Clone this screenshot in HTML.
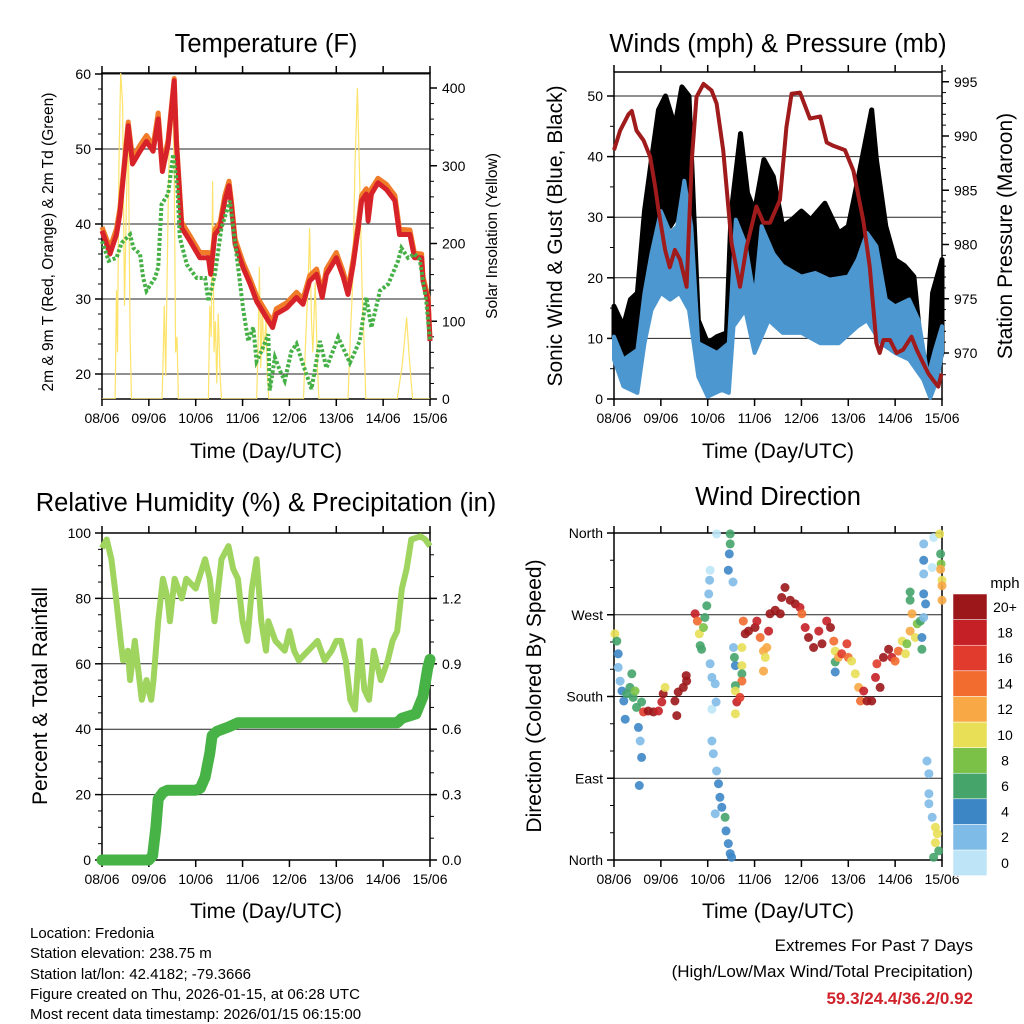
<!DOCTYPE html>
<html><head><meta charset="utf-8">
<style>
html,body{margin:0;padding:0;background:#fff;}
svg{display:block;font-family:"Liberation Sans",sans-serif;}
</style></head>
<body>
<svg id="fig" width="1024" height="1024" viewBox="0 0 1024 1024" xmlns="http://www.w3.org/2000/svg">
<rect width="1024" height="1024" fill="#fff"/>
<g id="layer"></g>
<!-- titles -->
<text x="266" y="52" font-size="25.5" text-anchor="middle">Temperature (F)</text>
<text x="778" y="52" font-size="25.5" text-anchor="middle">Winds (mph) &amp; Pressure (mb)</text>
<text x="266" y="511" font-size="25.5" text-anchor="middle">Relative Humidity (%) &amp; Precipitation (in)</text>
<text x="778" y="505" font-size="25.5" text-anchor="middle">Wind Direction</text>
<text x="266" y="458" font-size="21" text-anchor="middle">Time (Day/UTC)</text>
<text x="778" y="458" font-size="21" text-anchor="middle">Time (Day/UTC)</text>
<text x="266" y="918" font-size="21" text-anchor="middle">Time (Day/UTC)</text>
<text x="778" y="918" font-size="21" text-anchor="middle">Time (Day/UTC)</text>
<text transform="translate(53,242) rotate(-90)" font-size="15.5" text-anchor="middle">2m &amp; 9m T (Red, Orange) &amp; 2m Td (Green)</text>
<text transform="translate(497,236) rotate(-90)" font-size="15.5" text-anchor="middle">Solar Insolation (Yellow)</text>
<text transform="translate(562,236) rotate(-90)" font-size="21" text-anchor="middle">Sonic Wind &amp; Gust (Blue, Black)</text>
<text transform="translate(1012,236) rotate(-90)" font-size="21" text-anchor="middle">Station Pressure (Maroon)</text>
<text transform="translate(47,696) rotate(-90)" font-size="21" text-anchor="middle">Percent &amp; Total Rainfall</text>
<text transform="translate(541,696) rotate(-90)" font-size="21" text-anchor="middle">Direction (Colored By Speed)</text>
<!-- info -->
<g font-size="15">
<text x="30" y="938">Location: Fredonia</text>
<text x="30" y="958">Station elevation: 238.75 m</text>
<text x="30" y="979">Station lat/lon: 42.4182; -79.3666</text>
<text x="30" y="999">Figure created on Thu, 2026-01-15, at 06:28 UTC</text>
<text x="30" y="1019">Most recent data timestamp: 2026/01/15 06:15:00</text>
</g>
<g font-size="17" text-anchor="end">
<text x="973" y="951">Extremes For Past 7 Days</text>
<text x="973" y="977">(High/Low/Max Wind/Total Precipitation)</text>
<text x="973" y="1004" fill="#d0222a" font-weight="bold">59.3/24.4/36.2/0.92</text>
</g>
<text x="1005" y="588" font-size="15" text-anchor="middle">mph</text>
</svg>
<script>
// ---------- data ----------
const dayLabels=["08/06","09/06","10/06","11/06","12/06","13/06","14/06","15/06"];
const tempT=[0,0.17,0.31,0.38,0.56,0.65,0.81,0.95,1.09,1.2,1.29,1.41,1.54,1.59,1.7,1.88,2.09,2.27,2.32,2.41,2.52,2.62,2.71,2.76,2.84,3.01,3.16,3.3,3.55,3.64,3.72,3.94,4.15,4.29,4.43,4.58,4.7,4.79,5.0,5.15,5.25,5.36,5.47,5.54,5.64,5.68,5.75,5.89,6.07,6.25,6.35,6.57,6.67,6.82,6.85,6.96,7.0];
const tempRed=[39.1,36,38.6,41.3,53.1,48,49.7,51,49.7,54,47,50.6,59.1,50.6,39.5,37.7,35.5,35.5,33.3,38.6,39.5,43.1,45.1,42.6,37.3,34.2,32,29.7,27.1,26.2,28,28.8,30.2,29.3,32.4,33.3,30.2,33.3,35.5,32.9,30.6,34.6,39.5,43.1,44,40.4,44,45.5,44.6,43.1,38.6,38.6,35.5,35.5,32.4,29.7,24.4];
const tempOrange=[39.6,36.8,39.4,42,53.6,48.8,50.5,51.8,50.4,54.8,47.6,51.2,59.4,51.2,40.2,38.4,36.2,36.2,34,39.3,40.2,43.8,45.7,43.2,38,34.9,32.7,30.4,27.8,27,28.7,29.5,30.9,30,33.1,34,30.9,34,36.2,33.6,31.3,35.3,40.2,43.8,44.7,41.1,44.7,46.1,45.3,43.8,39.3,39.2,36.1,36,33,30.2,24.6];
const dewT=[0,0.14,0.31,0.42,0.6,0.67,0.81,0.88,0.95,1.13,1.2,1.27,1.41,1.52,1.61,1.66,1.81,2.02,2.2,2.27,2.41,2.55,2.73,2.87,3.01,3.12,3.23,3.3,3.4,3.55,3.58,3.69,3.8,3.9,4.04,4.15,4.29,4.47,4.65,4.79,5.04,5.29,5.5,5.64,5.75,5.93,6.11,6.32,6.39,6.53,6.67,6.78,6.92,7.0];
const dewV=[37.7,35.1,35.5,37.5,38.6,36.8,36,32.8,31.1,32.8,34.2,42.6,44,49.3,44.8,38.2,34.6,32.8,32.8,29.7,33.3,39.5,43.1,36,28.8,24.4,26.2,21.7,23,25.3,17.8,22.2,20.4,19.1,23,24,21.3,18,24.4,20.8,24.9,21.5,24.4,30.2,26.2,31.1,32,35.1,36.8,35.5,36,35.3,29.7,24.4];
const solarT=[0,0.28,0.31,0.33,0.36,0.4,0.44,0.48,0.52,0.56,0.6,0.63,1.28,1.3,1.33,1.36,1.4,1.45,1.5,1.54,1.57,1.6,1.63,2.27,2.3,2.33,2.36,2.39,2.42,2.45,2.48,2.52,2.55,3.3,3.33,3.36,3.39,3.42,3.45,3.5,3.53,3.56,4.3,4.35,4.4,4.43,4.47,4.5,4.55,4.6,4.63,5.25,5.3,5.35,5.4,5.45,5.5,5.55,5.6,5.63,6.3,6.35,6.4,6.45,6.5,6.55,6.6,6.63,7.0];
const solarV=[0,0,140,60,300,420,380,120,250,350,80,0,0,40,120,30,200,380,400,300,60,80,0,0,120,80,280,60,100,20,110,30,0,0,60,170,40,120,60,100,30,0,0,80,150,220,100,60,150,40,0,0,80,150,300,400,280,140,60,0,0,20,40,70,105,60,20,0,0];
const presT=[0,0.13,0.31,0.38,0.48,0.63,0.77,0.88,0.95,1.09,1.19,1.3,1.41,1.55,1.66,1.76,1.91,2.08,2.19,2.33,2.51,2.69,2.83,3.04,3.19,3.33,3.54,3.68,3.79,3.97,4.18,4.4,4.54,4.68,4.93,5.11,5.32,5.46,5.6,5.67,5.75,5.89,6.03,6.17,6.35,6.46,6.56,6.71,6.81,6.92,6.99];
const presV=[988.7,990.5,992,992.3,990.5,989.6,988.1,985.3,983.2,979.5,977.9,979.5,978.6,976.1,987.8,993.6,994.8,994.2,993,988.7,980.1,976.1,979.8,983.5,982,982,984.1,990.8,993.9,994,991.6,991.8,989.4,989.1,988.7,986.8,982.2,977.9,970.9,970,971.2,971.2,970,970.3,971.5,970.3,969.4,968.1,967.5,966.9,968.1];
const gustHiT=[0,0.2,0.35,0.5,0.65,0.8,0.95,1.1,1.3,1.45,1.6,1.7,1.8,2.0,2.2,2.4,2.5,2.7,2.85,3.0,3.2,3.4,3.6,3.8,4.0,4.2,4.5,4.8,5.0,5.2,5.4,5.5,5.6,5.8,6.0,6.2,6.4,6.55,6.7,6.8,7.0];
const gustHi=[15.3,12,16.4,17.5,31,39.5,47.7,50,45,51.5,50,31,13,9.2,10.3,10.9,30.7,43.8,34,31,39.5,36.7,28.5,29.6,31,29.6,32.3,27.4,28.5,36,43.8,47.7,39.5,28.5,23,22,20.2,8.7,3.7,17.5,23];
const gustLoT=[0,0.2,0.5,0.65,0.8,1.0,1.2,1.4,1.6,1.75,1.9,2.2,2.45,2.55,2.8,3.0,3.2,3.5,3.8,4.2,4.6,5.0,5.3,5.6,6.0,6.3,6.6,6.75,7.0];
const gustLo=[10.3,6.5,8.7,14.7,25,32.9,28.5,31,25.7,12,3.7,2.6,3.7,17.5,20.2,13,23,17.5,17.5,16.4,14.7,16.4,23,20.8,14.7,10.9,3.7,1,7.6];
const windHiT=[0,0.2,0.5,0.65,0.8,1.0,1.2,1.35,1.5,1.65,1.8,2.2,2.45,2.6,2.8,3.0,3.15,3.4,3.6,4.0,4.3,4.6,5.0,5.2,5.4,5.6,5.8,6.0,6.3,6.5,6.7,6.85,7.0];
const windHi=[10.3,6.5,8.1,17.5,24,31,27.4,28.5,36,28.5,9.2,7.6,9.2,29.6,25.7,16.4,28.5,24,22,20.2,20.8,19.7,20.2,23,27.4,25.2,16.4,15.3,16.4,13,3.7,8.1,12];
const windLoT=[0,0.2,0.5,0.65,0.8,1.0,1.2,1.4,1.6,1.8,2.0,2.3,2.45,2.55,2.8,3.0,3.3,3.6,4.0,4.4,4.8,5.2,5.4,5.7,6.0,6.3,6.6,6.75,6.9,7.0];
const windLo=[6.5,2.1,1,9.2,14.7,17.5,16.4,17.5,14.7,3.7,0.4,1.5,1,12,14.7,7.6,13,10.9,10.9,9.2,9.2,12,13,9.2,7.6,6.5,3.2,0.2,3.2,7.6];
const rhT=[0,0.1,0.2,0.3,0.4,0.45,0.55,0.6,0.7,0.75,0.85,0.95,1.05,1.1,1.2,1.3,1.4,1.45,1.55,1.7,1.8,2.0,2.2,2.3,2.4,2.55,2.7,2.8,2.9,3.0,3.1,3.2,3.3,3.4,3.5,3.55,3.7,3.9,4.0,4.1,4.2,4.4,4.6,4.75,4.9,5.0,5.1,5.2,5.3,5.4,5.5,5.6,5.7,5.8,5.95,6.1,6.2,6.3,6.4,6.5,6.6,6.8,6.9,7.0];
const rhV=[95.4,98,92,80,67,61,64,55,67,61,49,55,49,55,73,86,80,73,86,80,86,83,92,86,73,92,96,89,86,73,67,83,92,73,64,73,67,64,70,64,61,64,67,61,64,67,67,61,49,46,67,52,49,64,55,61,67,70,83,89,98,99,98,96];
const rainT=[0,1.0,1.08,1.15,1.2,1.3,1.4,2.0,2.1,2.2,2.3,2.35,2.45,2.7,2.9,6.3,6.4,6.7,6.85,6.95,7.0];
const rainV=[0,0,0.02,0.15,0.28,0.31,0.32,0.32,0.33,0.38,0.49,0.57,0.59,0.61,0.63,0.63,0.65,0.67,0.75,0.88,0.92];
const dirT=[0.02,0.06,0.09,0.09,0.13,0.17,0.21,0.24,0.27,0.34,0.38,0.41,0.45,0.48,0.52,0.56,0.59,0.54,0.59,0.63,0.73,0.84,0.95,1.02,1.05,1.09,1.3,1.34,1.37,1.48,1.55,1.54,1.73,1.78,1.82,1.84,1.87,1.91,1.94,1.98,2.02,2.04,2.05,2.05,2.09,2.16,2.09,2.18,2.19,2.09,2.12,2.19,2.23,2.26,2.16,2.3,2.37,2.39,2.44,2.48,2.51,2.48,2.48,2.46,2.44,2.54,2.55,2.57,2.59,2.73,2.73,2.73,2.73,2.59,2.59,2.62,2.69,2.59,2.76,2.8,2.87,3.01,3.05,3.12,3.19,3.23,3.19,3.26,3.3,3.33,3.44,3.55,3.58,3.65,3.76,3.87,3.97,4.01,4.08,4.15,4.26,4.37,4.44,4.54,4.62,4.69,4.72,4.72,4.72,4.79,4.86,4.97,5.0,5.07,5.15,5.22,5.26,5.33,5.4,5.5,5.58,5.61,5.68,5.75,5.86,5.93,6.0,6.07,6.15,6.22,6.25,6.32,6.36,6.32,6.32,6.43,6.47,6.54,6.57,6.57,6.61,6.65,6.61,6.61,6.61,6.61,6.79,6.82,6.68,6.72,6.72,6.72,6.79,6.86,6.9,6.86,6.93,6.82,6.95,6.97,6.98,6.97,7.0,7.0,7.0];
const dirDeg=[249,241,227,212,197,186,175,155,183,190,205,179,186,168,146,131,113,82,174,163,164,163,164,174,183,190,175,159,185,190,197,203,271,263,249,236,232,256,267,280,293,308,319,216,201,194,166,174,359,131,117,98,84,69,51,58,47,32,18,7,3,359,348,337,319,306,234,223,214,234,214,205,197,192,186,174,179,161,263,249,252,256,263,245,230,223,208,234,252,271,275,271,289,300,286,282,278,271,256,245,234,252,238,263,256,241,230,207,218,223,227,238,223,219,205,190,175,186,175,175,201,216,190,223,232,223,219,230,241,227,238,252,271,295,286,245,260,263,245,232,267,282,293,315,330,348,322,355,109,95,73,62,47,36,29,19,10,3,359,337,326,320,308,302,286];
const dirSpd=[10,7,4,3,2,4,4,4,6,7,7,6,8,6,4,2,4,4,6,16,20,20,19,18,20,10,20,20,20,20,20,20,18,14,10,7,6,8,7,6,2,2,1,2,2,2,1,2,1,2,2,3,4,4,2,4,6,4,4,4,4,6,6,4,4,3,2,6,4,10,10,7,14,6,10,18,17,10,14,20,20,20,18,15,12,10,12,12,18,20,20,20,20,20,20,20,18,15,18,20,20,18,20,18,20,14,10,4,6,13,17,17,14,10,10,12,14,18,20,20,18,17,20,20,20,18,14,14,10,10,8,13,12,7,7,10,8,6,4,6,2,4,4,2,4,2,1,1,2,2,2,2,2,10,10,10,6,6,10,6,8,13,10,13,13];
const spdColors=["#bde5f7","#7fbbe7","#3d86c6","#45a46a","#7cc147","#e8df57","#f8a845","#f26b2f","#e03b2c","#c42026","#9c1719"];
const spdLabels=["0","2","4","6","8","10","12","14","16","18","20+"];

// ---------- helpers ----------
const NS="http://www.w3.org/2000/svg";
const layer=document.getElementById('layer');
function mk(tag,attrs,parent){const e=document.createElementNS(NS,tag);for(const k in attrs)e.setAttribute(k,attrs[k]);(parent||layer).appendChild(e);return e;}
function txt(x,y,s,size,anchor,parent){const t=mk('text',{x:x,y:y,'font-size':size,'text-anchor':anchor},parent);t.textContent=s;return t;}
function xs(x0,x1){return d=>x0+(x1-x0)*d/7;}
function pathFrom(T,V,fx,fy){return T.map((t,i)=>(i?'L':'M')+fx(t).toFixed(1)+','+fy(V[i]).toFixed(1)).join('');}

function frame(name,x0,x1,y0,y1){
  const g=mk('g',{});
  
  
  const fx=xs(x0,x1);
  for(let d=0;d<=7;d++){
    const x=fx(d);
    mk('line',{x1:x,y1:y1,x2:x,y2:y1+7,stroke:'#000','stroke-width':1.5},g);
    mk('line',{x1:x,y1:y0,x2:x,y2:y0-7,stroke:'#000','stroke-width':1.5},g);
    const t=txt(x,y1+24,dayLabels[d],14,'middle',g);
    
    
  }
  return g;
}
function box(g,x0,x1,y0,y1){mk('rect',{x:x0,y:y0,width:x1-x0,height:y1-y0,fill:'none',stroke:'#000','stroke-width':1.5},g);}
function hgrid(g,x0,x1,y,label,side,withGrid){
  if(withGrid)mk('line',{x1:x0,y1:y,x2:x1,y2:y,stroke:'#222','stroke-width':1},g);
  if(side==='left'){mk('line',{x1:x0-7,y1:y,x2:x0,y2:y,stroke:'#000','stroke-width':1.5},g);const t=txt(x0-11,y+5,label,14,'end',g);}
  else{mk('line',{x1:x1,y1:y,x2:x1+7,y2:y,stroke:'#000','stroke-width':1.5},g);const t=txt(x1+12,y+5,label,14,'start',g);}
}
function minor(g,x,y,dir){mk('line',{x1:x,y1:y,x2:x+4*dir,y2:y,stroke:'#000','stroke-width':1},g);}

// ---------- Panel 1: temperature ----------
(function(){
  const x0=102,x1=430,y0=73,y1=399;
  const fx=xs(x0,x1), fy=v=>374-(v-20)*7.5, fs=v=>399-v*0.7775;
  const g=frame('temperature',x0,x1,y0,y1);
  [20,30,40,50,60].forEach(v=>hgrid(g,x0,x1,fy(v),String(v),'left',true));
  for(let v=18;v<=60;v+=2) minor(g,x0,fy(v),-1);
  [0,100,200,300,400].forEach(v=>hgrid(g,x0,x1,fs(v),String(v),'right',false));
  for(let v=0;v<=410;v+=20) minor(g,x1,fs(v),1);
  const clip=mk('clipPath',{id:'c1'});mk('rect',{x:x0,y:y0,width:x1-x0,height:y1-y0},clip);
  const s=mk('path',{d:pathFrom(solarT,solarV,fx,fs),fill:'none',stroke:'#fde36a','stroke-width':1.2,'clip-path':'url(#c1)'});
  
  
  const o=mk('path',{d:pathFrom(tempT,tempOrange,fx,fy),fill:'none',stroke:'#f07c2a','stroke-width':5,'stroke-linejoin':'round'});
  
  
  const r=mk('path',{d:pathFrom(tempT,tempRed,fx,fy),fill:'none',stroke:'#d82229','stroke-width':5,'stroke-linejoin':'round'});
  
  
  const dw=mk('path',{d:pathFrom(dewT,dewV,fx,fy),fill:'none',stroke:'#45b045','stroke-width':4,'stroke-dasharray':'3 2'});
  
  
  box(g,x0,x1,y0,y1);
})();

// ---------- Panel 2: winds ----------
(function(){
  const x0=614,x1=942,y0=72,y1=399;
  const fx=xs(x0,x1), fy=v=>399-v*6.06, fp=p=>353-(p-970)*10.85;
  const g=frame('winds',x0,x1,y0,y1);
  [0,10,20,30,40,50].forEach(v=>hgrid(g,x0,x1,fy(v),String(v),'left',v>0));
  for(let v=0;v<=54;v+=5) minor(g,x0,fy(v),-1);
  [970,975,980,985,990,995].forEach(v=>hgrid(g,x0,x1,fp(v),String(v),'right',false));
  for(let v=968;v<=996;v++) minor(g,x1,fp(v),1);
  function band(hT,hV,lT,lV,col,name,w){
    const d=pathFrom(hT,hV,fx,fy)+lT.slice().reverse().map((t,i)=>'L'+fx(t).toFixed(1)+','+fy(lV[lV.length-1-i]).toFixed(1)).join('')+'Z';
    const p=mk('path',{d:d,fill:col,stroke:col,'stroke-width':w,'stroke-linejoin':'round'});
    
    
  }
  band(gustHiT,gustHi,gustLoT,gustLo,'#000','gust-band',5);
  band(windHiT,windHi,windLoT,windLo,'#4d97d1','sonic-wind-band',4);
  const pr=mk('path',{d:pathFrom(presT,presV,fx,fp),fill:'none',stroke:'#a01b1c','stroke-width':4,'stroke-linejoin':'round'});
  
  
  box(g,x0,x1,y0,y1);
})();

// ---------- Panel 3: humidity ----------
(function(){
  const x0=102,x1=430,y0=533,y1=860;
  const fx=xs(x0,x1), fy=v=>860-v*3.27, fr=v=>860-v*218;
  const g=frame('humidity',x0,x1,y0,y1);
  [0,20,40,60,80,100].forEach(v=>hgrid(g,x0,x1,fy(v),String(v),'left',v>0&&v<100));
  for(let v=0;v<=100;v+=5) minor(g,x0,fy(v),-1);
  [0,0.3,0.6,0.9,1.2].forEach(v=>hgrid(g,x0,x1,fr(v),v.toFixed(1),'right',false));
  for(let v=0;v<=1.5;v+=0.1) minor(g,x1,fr(v),1);
  const rh=mk('path',{d:pathFrom(rhT,rhV,fx,fy),fill:'none',stroke:'#9fd45f','stroke-width':6,'stroke-linejoin':'round'});
  
  
  const rn=mk('path',{d:pathFrom(rainT,rainV,fx,fr),fill:'none',stroke:'#47b245','stroke-width':11,'stroke-linejoin':'round','stroke-linecap':'round'});
  
  
  box(g,x0,x1,y0,y1);
})();

// ---------- Panel 4: wind direction ----------
(function(){
  const x0=614,x1=942,y0=533,y1=860;
  const fx=xs(x0,x1), fy=d=>860-d*327/360;
  const g=frame('wind-direction',x0,x1,y0,y1);
  [[0,'North'],[90,'East'],[180,'South'],[270,'West'],[360,'North']].forEach(a=>hgrid(g,x0,x1,fy(a[0]),a[1],'left',a[0]>0&&a[0]<360));
  for(let v=0;v<=360;v+=30) minor(g,x0,fy(v),-1);
  dirT.forEach((t,i)=>{
    const ci=Math.min(10,Math.floor(dirSpd[i]/2));
    const c=mk('circle',{cx:fx(t).toFixed(1),cy:fy(dirDeg[i]).toFixed(1),r:4.5,fill:spdColors[ci],'fill-opacity':0.9});
    
    
  });
  box(g,x0,x1,y0,y1);
  // colorbar
  const cb=mk('g',{});
  
  
  const top=594,h=25.6;
  spdLabels.forEach((lab,i)=>{
    const k=10-i;
    mk('rect',{x:953,y:top+k*h,width:34,height:h,fill:spdColors[i],stroke:'#fff','stroke-width':0.5},cb);
    const t=txt(1005,top+k*h+h/2+5,lab,14,'middle',cb);
    
    
  });
})();
</script>
</body></html>
